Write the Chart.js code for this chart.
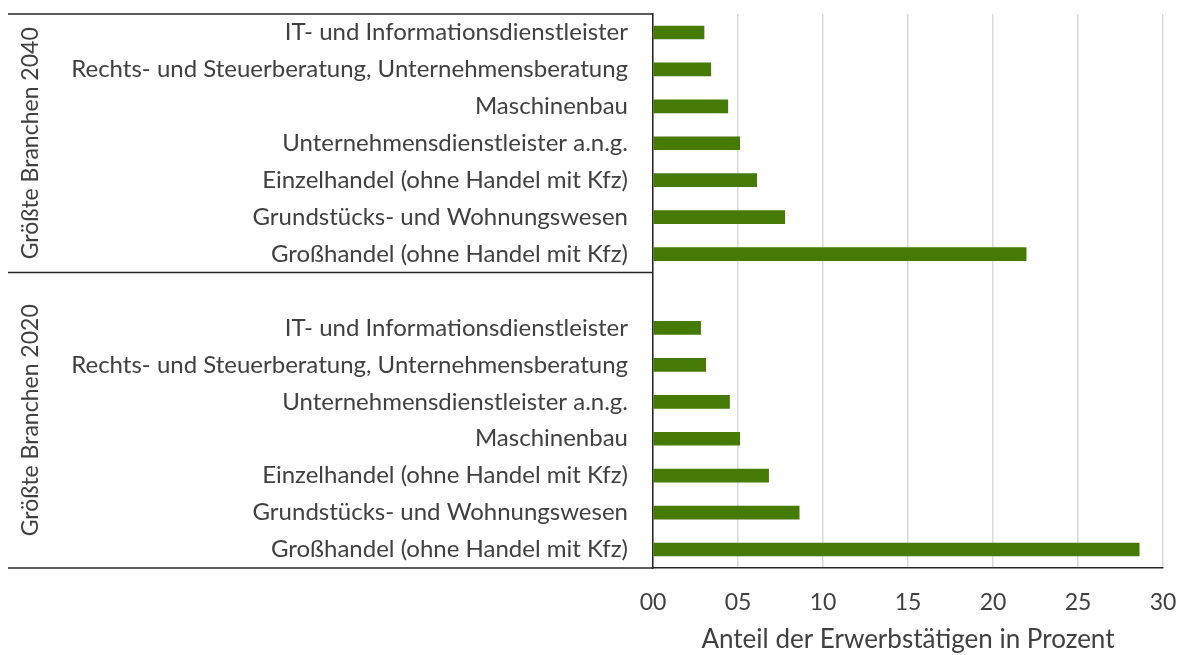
<!DOCTYPE html>
<html lang="de">
  <head>
    <meta charset="UTF-8" />
    <title>Größte Branchen</title>
    <script src="https://cdn.jsdelivr.net/npm/chart.js@4.4.1/dist/chart.umd.min.js"></script>
    <style>
      body { margin: 0; background: #fff; }
      canvas { display: block; }
    </style>
  </head>
  <body>
    <canvas id="Graph" width="1182" height="655"></canvas>

    <script>
      // data, top to bottom
      const branchen2040 = [
        'IT- und Informationsdienstleister',
        'Rechts- und Steuerberatung, Unternehmensberatung',
        'Maschinenbau',
        'Unternehmensdienstleister a.n.g.',
        'Einzelhandel (ohne Handel mit Kfz)',
        'Grundstücks- und Wohnungswesen',
        'Großhandel (ohne Handel mit Kfz)'
      ];
      const anteil2040 = [3.0, 3.4, 4.4, 5.1, 6.1, 7.75, 21.95];

      const branchen2020 = [
        'IT- und Informationsdienstleister',
        'Rechts- und Steuerberatung, Unternehmensberatung',
        'Unternehmensdienstleister a.n.g.',
        'Maschinenbau',
        'Einzelhandel (ohne Handel mit Kfz)',
        'Grundstücks- und Wohnungswesen',
        'Großhandel (ohne Handel mit Kfz)'
      ];
      const anteil2020 = [2.8, 3.1, 4.5, 5.1, 6.8, 8.6, 28.6];

      const gruppen = ['Größte Branchen 2040', 'Größte Branchen 2020'];
      const xTickLabels = ['00', '05', '10', '15', '20', '25', '30'];
      const xTitle = 'Anteil der Erwerbstätigen in Prozent';

      const FONT = 'Lato';
      const TEXT = '#404040';
      const LINE = '#262626';

      // one empty slot opens the 2020 group
      const labels = [...branchen2040, '', ...branchen2020];
      const values = [...anteil2040, null, ...anteil2020];
      const splitIndex = branchen2040.length; // first index of the 2020 group

      const groupPlugin = {
        id: 'groups',
        afterDraw(chart) {
          const { ctx, chartArea } = chart;
          const y = chart.scales.y;
          const half = (y.getPixelForValue(1) - y.getPixelForValue(0)) / 2;
          const split = y.getPixelForValue(splitIndex) - half;
          const x0 = 8;

          ctx.save();
          ctx.strokeStyle = LINE;
          ctx.lineWidth = 1.5;
          [chartArea.top, split, chartArea.bottom].forEach(py => {
            ctx.beginPath();
            ctx.moveTo(x0, py);
            ctx.lineTo(chartArea.left, py);
            ctx.stroke();
          });

          ctx.fillStyle = TEXT;
          ctx.font = '23px ' + FONT;
          ctx.textAlign = 'center';
          ctx.textBaseline = 'middle';
          const spans = [[chartArea.top, split], [split, chartArea.bottom]];
          spans.forEach((s, i) => {
            ctx.save();
            ctx.translate(31, (s[0] + s[1]) / 2);
            ctx.rotate(-Math.PI / 2);
            ctx.fillText(gruppen[i], 0, 0);
            ctx.restore();
          });
          ctx.restore();
        }
      };

      const element = document.getElementById('Graph').getContext('2d');
      const Graph = new Chart(element, {
        type: 'bar',
        data: {
          labels: labels,
          datasets: [
            {
              data: values,
              backgroundColor: '#457a05',
              borderColor: '#457a05',
              borderWidth: 0,
              barThickness: 13
            }
          ]
        },
        options: {
          indexAxis: 'y',
          responsive: false,
          animation: false,
          layout: { padding: { top: 14, right: 19, left: 0, bottom: 0 } },
          plugins: {
            legend: { display: false },
            tooltip: { enabled: false }
          },
          scales: {
            x: {
              min: 0,
              max: 30,
              ticks: {
                stepSize: 5,
                padding: 21,
                color: TEXT,
                font: { family: FONT, size: 23 },
                callback: (v) => xTickLabels[Math.round(v / 5)]
              },
              grid: { color: '#d9d9d9', lineWidth: 1.5, drawTicks: false },
              border: { color: LINE, width: 1.5 },
              title: {
                display: true,
                text: xTitle,
                color: TEXT,
                font: { family: FONT, size: 26 },
                padding: { top: 0, bottom: 0 }
              },
              afterFit(scale) {
                scale.height = 87;
                scale.paddingLeft = 0;
                scale.paddingRight = 0;
              }
            },
            y: {
              ticks: {
                padding: 25,
                autoSkip: false,
                color: TEXT,
                font: { family: FONT, size: 24 }
              },
              grid: { display: false, drawTicks: false },
              border: { color: LINE, width: 1.5 },
              afterFit(scale) {
                scale.width = 653;
                scale.paddingTop = 0;
                scale.paddingBottom = 0;
              }
            }
          }
        },
        plugins: [groupPlugin]
      });
    </script>
  </body>
</html>
